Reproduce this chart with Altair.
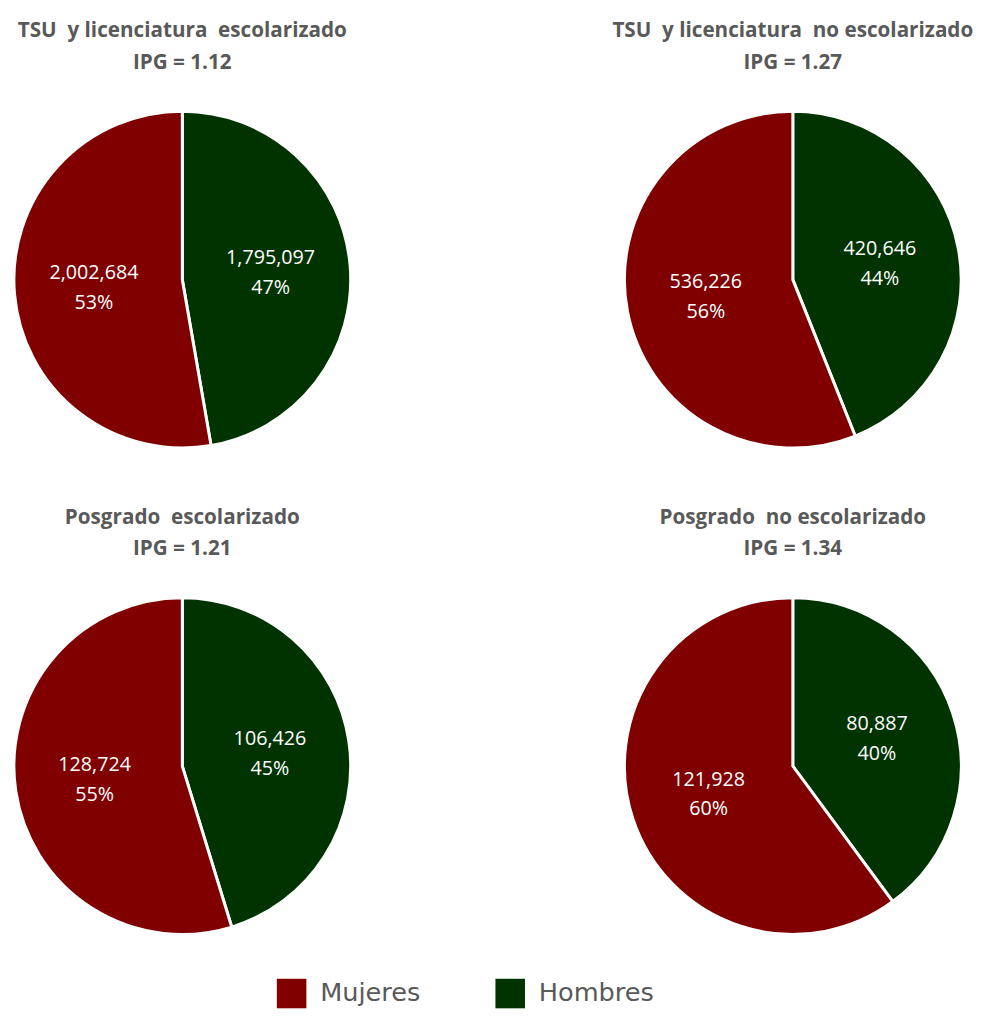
import altair as alt
import pandas as pd

panels = ["TSU\u00a0 y licenciatura\u00a0 escolarizado", "TSU\u00a0 y licenciatura\u00a0 no escolarizado",
          "Posgrado\u00a0 escolarizado", "Posgrado\u00a0 no escolarizado"]
ipg = ["1.12", "1.27", "1.21", "1.34"]
mujeres = [2002684, 536226, 128724, 121928]
hombres = [1795097, 420646, 106426, 80887]
panel_col = [0, 1, 0, 1]
panel_row = [0, 0, 1, 1]
sexes = ["Mujeres", "Hombres"]
colors = ["#800000", "#003300"]

rows = []
titles = []
for i, p in enumerate(panels):
    tot = mujeres[i] + hombres[i]
    fh = hombres[i] / tot
    for s, v, a, b in [("Hombres", hombres[i], 0.0, fh), ("Mujeres", mujeres[i], fh, 1.0)]:
        rows.append({"panel": p, "col": panel_col[i], "row": panel_row[i], "sexo": s,
                     "valor": v, "start": a, "end": b, "mid": (a + b) / 2,
                     "label": f"{v:,}\n{round(100 * v / tot)}%"})
    titles.append({"col": panel_col[i], "row": panel_row[i],
                   "titulo": p + "\nIPG = " + ipg[i]})
df = pd.DataFrame(rows)
tdf = pd.DataFrame(titles)

X = alt.X("col:Q", scale=alt.Scale(domain=[0, 1], range=[170, 790]), axis=None)
Y = alt.Y("row:Q", scale=alt.Scale(domain=[0, 1], range=[268, 762]), axis=None)
TH = alt.Theta("start:Q", scale=alt.Scale(domain=[0, 1]))

arcs = alt.Chart(df).mark_arc(radius=171, stroke="white", strokeWidth=3).encode(
    x=X, y=Y, theta=TH, theta2="end:Q",
    color=alt.Color("sexo:N", scale=alt.Scale(domain=sexes, range=colors),
                    legend=alt.Legend(title=None)),
)
labels = alt.Chart(df).mark_text(radius=90, lineBreak="\n", fontSize=20, lineHeight=30,
                                 dy=-14, color="white", font="Open Sans").encode(
    x=X, y=Y, theta=alt.Theta("mid:Q", scale=alt.Scale(domain=[0, 1])), text="label:N"
)
heads = alt.Chart(tdf).mark_text(lineBreak="\n", fontSize=21, lineHeight=32, dy=-252,
                                 fontWeight="bold", color="#595959", font="Open Sans",
                                 baseline="middle").encode(
    x=X, y=Y, text="titulo:N"
)

chart = alt.layer(arcs, labels, heads).properties(
    width=966, height=1010
).configure(padding=0).configure_view(stroke=None).configure_legend(
    orient="none", legendX=266, legendY=978, direction="horizontal",
    symbolType="square", symbolSize=900, symbolStrokeWidth=0,
    labelFontSize=26, labelFont="DejaVu Sans", labelColor="#595959",
    labelOffset=14, columnPadding=76
)

chart.save("out.html", embed_options={"renderer": "svg", "actions": False})
